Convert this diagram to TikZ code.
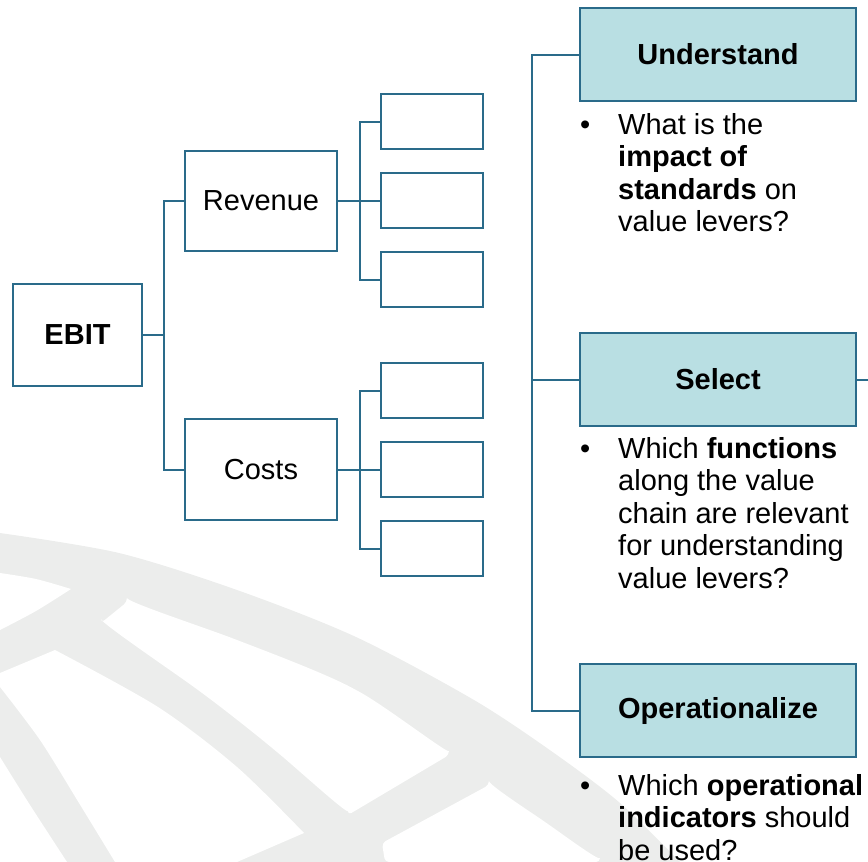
\documentclass[tikz,border=0pt]{standalone}
\usepackage{fontspec}
\setmainfont{Liberation Sans}
\usepackage{tikz}
\usetikzlibrary{positioning}

\definecolor{frame}{RGB}{42,107,138}
\definecolor{headfill}{RGB}{185,223,227}
\definecolor{globe}{RGB}{236,237,236}

\begin{document}
\begin{tikzpicture}[x=1pt, y=-1pt, font=\fontsize{29}{32.5}\selectfont,
    box/.style={draw=frame, line width=2.5pt, fill=white, inner sep=0pt},
    leaf/.style={box, minimum width=102pt, minimum height=55pt},
    head/.style={box, fill=headfill, minimum width=276pt, minimum height=93pt, font=\fontsize{29}{32.5}\selectfont\bfseries},
    link/.style={draw=frame, line width=2pt},
    txt/.style={inner sep=0pt, align=left, anchor=base west}]
  \useasboundingbox (0,0) rectangle (868,862);

  % globe in the background
  \fill[globe] plot[smooth] coordinates {(0,533) (119,553) (237,590) (356,637) (474,700) (554,753) (620,803) (680,862)} -- (0,862) -- cycle;
  \fill[white] plot[smooth] coordinates {(0,573) (36,579) (71,589)} -- plot[smooth] coordinates {(71,589) (36,611) (0,630)} -- cycle;
  \fill[white, rounded corners=4pt] plot[smooth] coordinates {(127,602) (237,640) (356,690) (449,755)} -- (348,815) -- plot[smooth] coordinates {(348,815) (277,752) (198,690) (101,623)} -- cycle;
  \fill[white] (55,650) -- (0,673) -- plot[smooth] coordinates {(0,687) (40,740) (79,803) (115,862)} -- (237,862) -- (304,833) -- plot[smooth] coordinates {(304,833) (237,767) (158,707) (55,650)} -- cycle;
  \fill[white] plot[smooth] coordinates {(0,757) (30,805) (67,862)} -- (0,862) -- cycle;
  \fill[white, rounded corners=4pt] (385,862) -- (382,843) -- (489,785) -- plot[smooth] coordinates {(489,785) (545,822) (600,862)} -- cycle;

  % value tree
  \node[box, minimum width=129pt, minimum height=102pt] (ebit) at (77.5,335) {\textbf{EBIT}};
  \node[box, minimum width=152pt, minimum height=100pt] (rev) at (261,201) {Revenue};
  \node[box, minimum width=152pt, minimum height=101pt] (cost) at (261,469.5) {Costs};
  \foreach \y [count=\i] in {121.5, 200.5, 279.5}
    \node[leaf] (r\i) at (432,\y) {};
  \foreach \y [count=\i] in {390.5, 469.5, 548.5}
    \node[leaf] (c\i) at (432,\y) {};

  \draw[link] (ebit.east) -- ++(21,0) coordinate (ej) |- (rev.west);
  \draw[link] (ej) |- (cost.west);
  \foreach \i in {1,2,3} {
    \draw[link] (rev.east) -- ++(22,0) |- (r\i.west);
    \draw[link] (cost.east) -- ++(22,0) |- (c\i.west);
  }

  % steps
  \node[head] (und) at (718,54.5) {Understand};
  \node[head] (sel) at (718,379.5) {Select};
  \node[head] (oper) at (718,710.5) {Operationalize};
  \coordinate (edge) at (868,379.5);

  \draw[link] (und.west) -- ++(-47,0) |- (oper.west);
  \draw[link] (sel.west) -- ++(-47,0);
  \draw[link] (sel.east) -- (edge);

  % questions (anchored at the baseline of the last line)
  \node[txt] (ub) at (580,134) {\textbullet};
  \node[txt] (uq) at (618,231.5) {What is the\\\textbf{impact of}\\\textbf{standards} on\\value levers?};
  \node[txt] (sb) at (580,458) {\textbullet};
  \node[txt] (sq) at (618,588) {Which \textbf{functions}\\along the value\\chain are relevant\\for understanding\\value levers?};
  \node[txt] (ob) at (580,795) {\textbullet};
  \node[txt] (oq) at (618,860) {Which \textbf{operational}\\\textbf{indicators} should\\be used?};
\end{tikzpicture}
\end{document}
